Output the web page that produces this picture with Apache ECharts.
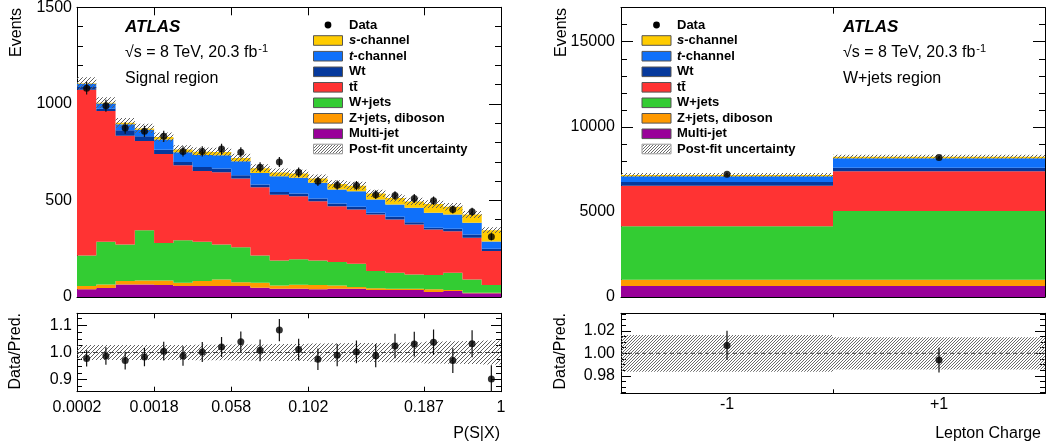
<!DOCTYPE html>
<html><head><meta charset="utf-8">
<script src="https://cdn.jsdelivr.net/npm/echarts@6/dist/echarts.min.js"></script>
<style>html,body{margin:0;padding:0;background:#fff}#c{width:1048px;height:447px}</style>
</head><body><div id="c"></div>
<script>
// ================= DATA =================
// Process names (stack order, bottom -> top) and colours
const procNames  = ['Multi-jet', 'Z+jets, diboson', 'W+jets', 'tt\u0304', 'Wt', 't-channel', 's-channel'];
const procColors = ['#990099', '#ff9900', '#33cc33', '#ff3333', '#06399c', '#0f70fa', '#ffcc00'];

// --- Signal region: 22 bins in P(S|X) ---
const srMultijet = [40, 46, 65, 65, 62, 57, 57, 57, 57, 48, 43, 43, 40, 43, 43, 36, 36, 36, 26, 31, 19, 19];
const srZjets    = [17, 19, 18, 21, 24, 17, 26, 34, 20, 26, 17, 21, 22, 17, 9, 9, 7, 7, 14, 5, 3, 3];
const srWjets    = [158, 221, 189, 260, 193, 220, 203, 181, 181, 141, 129, 131, 127, 121, 120, 89, 83, 74, 74, 90, 69, 40];
const srTtbar    = [858, 677, 563, 462, 461, 388, 367, 374, 355, 353, 341, 327, 307, 289, 281, 293, 275, 258, 236, 215, 216, 176];
const srWt       = [14, 12, 28, 24, 23, 17, 20, 19, 17, 14, 14, 14, 14, 14, 14, 9, 14, 12, 8, 12, 17, 12];
const srTchan    = [17, 27, 32, 34, 52, 50, 62, 69, 73, 60, 81, 81, 81, 72, 81, 69, 64, 75, 78, 74, 60, 37];
const srSchan    = [3, 4, 7, 7, 13, 15, 17, 17, 17, 25, 20, 22, 23, 29, 28, 31, 34, 33, 45, 40, 43, 59];
const srData     = [1081, 990, 875, 858, 832, 754, 754, 766, 749, 672, 699, 646, 599, 579, 577, 530, 525, 510, 499, 453, 441, 312];
const srDataErr  = [33, 31, 30, 29, 29, 27, 27, 28, 27, 26, 26, 25, 24, 24, 24, 23, 23, 23, 22, 21, 21, 18];
const srRatio    = [0.978, 0.987, 0.970, 0.983, 1.005, 0.987, 1.002, 1.020, 1.040, 1.008, 1.083, 1.011, 0.975, 0.990, 1.002, 0.988, 1.024, 1.031, 1.038, 0.970, 1.032, 0.902];
const srRatioErr = [0.030, 0.032, 0.033, 0.034, 0.035, 0.036, 0.037, 0.037, 0.038, 0.040, 0.041, 0.040, 0.040, 0.041, 0.042, 0.043, 0.045, 0.046, 0.047, 0.046, 0.050, 0.051];
const srUnc      = [0.028, 0.028, 0.028, 0.028, 0.028, 0.028, 0.029, 0.029, 0.030, 0.030, 0.031, 0.031, 0.033, 0.034, 0.035, 0.035, 0.036, 0.037, 0.041, 0.042, 0.043, 0.044];
const srTickPos    = [0, 4, 8, 12, 18, 22];
const srTickLabels = ['0.0002', '0.0018', '0.058', '0.102', '0.187', '1'];

// --- W+jets region: 2 bins in lepton charge ---
const wjCategories = ['-1', '+1'];
const wjMultijet = [650, 650];
const wjZjets    = [370, 370];
const wjWjets    = [3140, 4040];
const wjTtbar    = [2370, 2333];
const wjWt       = [235, 196];
const wjTchan    = [330, 569];
const wjSchan    = [70, 88];
const wjData     = [7216, 8196];
const wjDataErr  = [85, 91];
const wjRatio    = [1.007, 0.994];
const wjRatioErr = [0.013, 0.011];
const wjUnc      = [0.0163, 0.0143];

// ================= HELPERS =================
const FONT = "'Liberation Sans', Arial, Helvetica, sans-serif";

function makeHatch(color, size) {
  const c = document.createElement('canvas');
  c.width = size; c.height = size;
  const ctx = c.getContext('2d');
  ctx.strokeStyle = color; ctx.lineWidth = 1;
  ctx.beginPath();
  ctx.moveTo(0, size); ctx.lineTo(size, 0);
  ctx.moveTo(-1, 1); ctx.lineTo(1, -1);
  ctx.moveTo(size - 1, size + 1); ctx.lineTo(size + 1, size - 1);
  ctx.stroke();
  return c;
}
const hatch4 = { image: makeHatch('#606060', 4), repeat: 'repeat' };
const hatch3 = { image: makeHatch('#6a6a6a', 3), repeat: 'repeat' };

const grids = [
  { left: 77,  top: 7.3,   width: 424, height: 289.7 },
  { left: 77,  top: 313.3, width: 424, height: 78.4 },
  { left: 621, top: 7.7,   width: 424, height: 289.3 },
  { left: 621, top: 313.3, width: 424, height: 80 }
];
grids.forEach(g => { g.outerBoundsMode = 'none'; g.containLabel = false; });

const xAxes = [], yAxes = [];
function axis(o) {
  return {
    type: 'value', gridIndex: o.g, position: o.pos, min: o.min, max: o.max,
    axisLine: { show: !!o.line, onZero: false, lineStyle: { color: '#000', width: 1 } },
    axisTick: { show: o.len > 0, inside: true, length: o.len, customValues: o.ticks, lineStyle: { color: '#000', width: 1 } },
    axisLabel: { show: !!o.labels, customValues: o.labels || [], formatter: o.fmt, color: '#000',
                 fontSize: 16, fontFamily: FONT, margin: o.margin || 6, hideOverlap: false,
                 showMinLabel: true, showMaxLabel: true },
    splitLine: { show: false }, minorTick: { show: false }, minorSplitLine: { show: false }
  };
}
function addX(o) { xAxes.push(axis(o)); return xAxes.length - 1; }
function addY(o) { yAxes.push(axis(o)); return yAxes.length - 1; }
function range(a, b, step, exclStep) {
  const out = [];
  for (let v = a; v <= b + 1e-9; v += step) {
    const r = Math.round(v * 100000) / 100000;
    if (exclStep && Math.abs(r / exclStep - Math.round(r / exclStep)) < 1e-6) continue;
    out.push(r);
  }
  return out;
}

// ---- Grid 0: signal region main ----
const x0 = addX({ g: 0, pos: 'bottom', min: 0, max: 22, line: true, len: 8, ticks: srTickPos });
addX({ g: 0, pos: 'top', min: 0, max: 22, line: true, len: 8, ticks: srTickPos });
const y0 = addY({ g: 0, pos: 'left', min: 0, max: 1500, line: true, len: 12, ticks: [0, 500, 1000, 1500],
                  labels: [0, 500, 1000, 1500], fmt: v => String(Math.round(v)), margin: 5 });
addY({ g: 0, pos: 'left', min: 0, max: 1500, line: false, len: 6, ticks: range(100, 1400, 100, 500) });
addY({ g: 0, pos: 'right', min: 0, max: 1500, line: true, len: 12, ticks: [0, 500, 1000, 1500] });
addY({ g: 0, pos: 'right', min: 0, max: 1500, line: false, len: 6, ticks: range(100, 1400, 100, 500) });

// ---- Grid 1: signal region ratio ----
const x1 = addX({ g: 1, pos: 'bottom', min: 0, max: 22, line: true, len: 5, ticks: srTickPos,
                  labels: srTickPos, fmt: v => srTickLabels[srTickPos.indexOf(Math.round(v))] || '', margin: 8 });
addX({ g: 1, pos: 'top', min: 0, max: 22, line: true, len: 5, ticks: srTickPos });
const y1 = addY({ g: 1, pos: 'left', min: 0.855, max: 1.145, line: true, len: 10, ticks: [0.9, 1.0, 1.1],
                  labels: [0.9, 1.0, 1.1], fmt: v => v.toFixed(1), margin: 5 });
addY({ g: 1, pos: 'left', min: 0.855, max: 1.145, line: false, len: 5, ticks: range(0.875, 1.125, 0.025, 0.1) });
addY({ g: 1, pos: 'right', min: 0.855, max: 1.145, line: true, len: 10, ticks: [0.9, 1.0, 1.1] });
addY({ g: 1, pos: 'right', min: 0.855, max: 1.145, line: false, len: 5, ticks: range(0.875, 1.125, 0.025, 0.1) });

// ---- Grid 2: W+jets main ----
const x2 = addX({ g: 2, pos: 'bottom', min: 0, max: 2, line: true, len: 6, ticks: [0, 1, 2] });
addX({ g: 2, pos: 'bottom', min: 0, max: 2, line: false, len: 2, ticks: range(0.1, 1.9, 0.1, 1) });
addX({ g: 2, pos: 'top', min: 0, max: 2, line: true, len: 6, ticks: [0, 1, 2] });
const y2 = addY({ g: 2, pos: 'left', min: 0, max: 17000, line: true, len: 12, ticks: [0, 5000, 10000, 15000],
                  labels: [0, 5000, 10000, 15000], fmt: v => String(Math.round(v)), margin: 6 });
addY({ g: 2, pos: 'left', min: 0, max: 17000, line: false, len: 6, ticks: range(1000, 17000, 1000, 5000) });
addY({ g: 2, pos: 'right', min: 0, max: 17000, line: true, len: 12, ticks: [0, 5000, 10000, 15000] });
addY({ g: 2, pos: 'right', min: 0, max: 17000, line: false, len: 6, ticks: range(1000, 17000, 1000, 5000) });

// ---- Grid 3: W+jets ratio ----
const x3 = addX({ g: 3, pos: 'bottom', min: 0, max: 2, line: true, len: 4, ticks: [0, 1, 2],
                  labels: [0.5, 1.5], fmt: v => wjCategories[Math.floor(v)] || '', margin: 3 });
addX({ g: 3, pos: 'top', min: 0, max: 2, line: true, len: 4, ticks: [0, 1, 2] });
const y3 = addY({ g: 3, pos: 'left', min: 0.9645, max: 1.0355, line: true, len: 10, ticks: [0.98, 1.0, 1.02],
                  labels: [0.98, 1.0, 1.02], fmt: v => v.toFixed(2), margin: 6 });
addY({ g: 3, pos: 'left', min: 0.9645, max: 1.0355, line: false, len: 5, ticks: range(0.965, 1.035, 0.005, 0.02) });
addY({ g: 3, pos: 'right', min: 0.9645, max: 1.0355, line: true, len: 10, ticks: [0.98, 1.0, 1.02] });
addY({ g: 3, pos: 'right', min: 0.9645, max: 1.0355, line: false, len: 5, ticks: range(0.965, 1.035, 0.005, 0.02) });

// ---- render helpers ----
// Draws the whole histogram band of one series as a single stepped polygon
// (data items: [binLowEdge, low, high]); built on the first item only.
function binPoly(fillOverride) {
  return function (params, api) {
    if (params.dataIndexInside !== 0) return null;
    const n = params.dataInsideLength;
    const top = [], bot = [];
    for (let j = 0; j < n; j++) {
      const xs = api.value(0, j), lo = api.value(1, j), hi = api.value(2, j);
      const a = api.coord([xs, hi]), b = api.coord([xs + 1, hi]);
      const c = api.coord([xs, lo]), d = api.coord([xs + 1, lo]);
      top.push([a[0], a[1]], [b[0], b[1]]);
      bot.push([c[0], c[1]], [d[0], d[1]]);
    }
    const pts = top.concat(bot.reverse());
    return { type: 'polygon', shape: { points: pts },
             style: { fill: fillOverride || api.visual('color'), stroke: null, lineWidth: 0 } };
  };
}
function errBar(params, api) {
  const xc = api.value(0);
  const a = api.coord([xc, api.value(1)]);
  const b = api.coord([xc, api.value(2)]);
  return { type: 'line', shape: { x1: a[0], y1: a[1], x2: b[0], y2: b[1] }, style: { stroke: '#111', lineWidth: 1.2 } };
}

const series = [];
function addStack(comps, xi, yi) {
  const n = comps[0].length;
  const base = new Array(n).fill(0);
  comps.forEach((vals, k) => {
    const data = vals.map((v, i) => [i, base[i], base[i] + v]);
    vals.forEach((v, i) => { base[i] += v; });
    series.push({ type: 'custom', name: procNames[k], xAxisIndex: xi, yAxisIndex: yi, clip: true, z: 2,
                  itemStyle: { color: procColors[k] }, renderItem: binPoly(), data: data, silent: true });
  });
  return base; // totals
}
function addMain(comps, data, dataErr, unc, xi, yi, hatch) {
  const tot = addStack(comps, xi, yi);
  series.push({ type: 'custom', name: 'Post-fit uncertainty', xAxisIndex: xi, yAxisIndex: yi, clip: true, z: 3,
                renderItem: binPoly(hatch), silent: true,
                data: tot.map((t, i) => [i, t * (1 - unc[i]), t * (1 + unc[i])]) });
  series.push({ type: 'custom', name: 'Data err', xAxisIndex: xi, yAxisIndex: yi, clip: true, z: 4, renderItem: errBar,
                silent: true, data: data.map((v, i) => [i + 0.5, v - dataErr[i], v + dataErr[i]]) });
  series.push({ type: 'scatter', name: 'Data', xAxisIndex: xi, yAxisIndex: yi, z: 5, symbol: 'circle', symbolSize: 7,
                itemStyle: { color: '#000' }, silent: true, data: data.map((v, i) => [i + 0.5, v]) });
}
function addRatio(ratio, rErr, unc, nb, xi, yi, hatch, dash) {
  series.push({ type: 'custom', name: 'Ratio band', xAxisIndex: xi, yAxisIndex: yi, clip: true, z: 2,
                renderItem: binPoly(hatch), silent: true, data: unc.map((u, i) => [i, 1 - u, 1 + u]) });
  series.push({ type: 'line', name: 'Unity', xAxisIndex: xi, yAxisIndex: yi, z: 3, symbol: 'none', silent: true,
                lineStyle: { color: '#444', width: 1, type: dash }, data: [[0, 1], [nb, 1]] });
  series.push({ type: 'custom', name: 'Ratio err', xAxisIndex: xi, yAxisIndex: yi, clip: true, z: 4, renderItem: errBar,
                silent: true, data: ratio.map((r, i) => [i + 0.5, r - rErr[i], r + rErr[i]]) });
  series.push({ type: 'scatter', name: 'Ratio', xAxisIndex: xi, yAxisIndex: yi, z: 5, symbol: 'circle', symbolSize: 7,
                itemStyle: { color: '#000' }, silent: true, clip: true, data: ratio.map((r, i) => [i + 0.5, r]) });
}

addMain([srMultijet, srZjets, srWjets, srTtbar, srWt, srTchan, srSchan], srData, srDataErr, srUnc, x0, y0, hatch4);
addRatio(srRatio, srRatioErr, srUnc, 22, x1, y1, hatch4, [5, 3]);
addMain([wjMultijet, wjZjets, wjWjets, wjTtbar, wjWt, wjTchan, wjSchan], wjData, wjDataErr, wjUnc, x2, y2, hatch4);
addRatio(wjRatio, wjRatioErr, wjUnc, 2, x3, y3, hatch3, [4, 3]);

// ================= TEXT / LEGEND (graphic) =================
const graphics = [];
function txt(x, y, text, opt) {
  opt = opt || {};
  graphics.push({
    type: 'text', x: x, y: y, rotation: opt.rotation || 0, silent: true, z: 100,
    style: Object.assign({ text: text, fill: '#000', fontFamily: FONT, fontSize: opt.size || 16,
      fontWeight: opt.weight || 'normal', fontStyle: opt.style || 'normal',
      align: opt.align || 'left', verticalAlign: opt.valign || 'middle',
      textAlign: opt.align || 'left', textVerticalAlign: opt.valign || 'middle' }, opt.extra || {})
  });
}
const supRich = { sup: { fontSize: 11, fontFamily: FONT, verticalAlign: 'top', fill: '#000', padding: [0, 0, 0, 1] } };
function header(x, region) {
  txt(x, 27, 'ATLAS', { size: 17, weight: 'bold', style: 'italic' });
  txt(x, 53, '\u221As = 8 TeV, 20.3 fb{sup|-1}', { size: 16, extra: { rich: supRich, lineHeight: 20 } });
  txt(x, 78.5, region, { size: 16 });
}
header(125, 'Signal region');
header(843, 'W+jets region');

// Axis titles
txt(17, 8, 'Events', { rotation: Math.PI / 2, align: 'right' });
txt(562, 8, 'Events', { rotation: Math.PI / 2, align: 'right' });
txt(16, 313, 'Data/Pred.', { rotation: Math.PI / 2, align: 'right' });
txt(561, 313, 'Data/Pred.', { rotation: Math.PI / 2, align: 'right' });
txt(500, 434, 'P(S|X)', { align: 'right' });
txt(1041, 434, 'Lepton Charge', { align: 'right' });

// Legends
const legendRows = [25, 40.5, 56.2, 71.8, 87.3, 102.8, 118.3, 133.8, 149];
const legendLabels = ['Data', '{it|s}-channel', '{it|t}-channel', 'Wt', 'tt\u0304', 'W+jets', 'Z+jets, diboson', 'Multi-jet', 'Post-fit uncertainty'];
const legendColorIdx = [null, 6, 5, 4, 3, 2, 1, 0, null];
const itRich = { it: { fontStyle: 'italic', fontWeight: 'bold', fontSize: 13, fontFamily: FONT, fill: '#000' } };
function legend(bx, tx) {
  legendRows.forEach((y, r) => {
    if (r === 0) {
      graphics.push({ type: 'circle', silent: true, z: 100, shape: { cx: bx + 14.5, cy: y, r: 3.4 }, style: { fill: '#000' } });
    } else if (r === legendRows.length - 1) {
      graphics.push({ type: 'rect', silent: true, z: 100, shape: { x: bx, y: y - 4.8, width: 29, height: 9.6 }, style: { fill: '#fff', stroke: '#9a9a9a', lineWidth: 1 } });
      graphics.push({ type: 'rect', silent: true, z: 101, shape: { x: bx + 0.5, y: y - 4.3, width: 28, height: 8.6 }, style: { fill: hatch3 } });
    } else {
      graphics.push({ type: 'rect', silent: true, z: 100, shape: { x: bx, y: y - 4.8, width: 29, height: 9.6 },
                      style: { fill: procColors[legendColorIdx[r]], stroke: '#555', lineWidth: 1 } });
    }
    txt(tx, y, legendLabels[r], { size: 13, weight: 'bold', extra: { rich: itRich } });
  });
}
legend(313.5, 349);
legend(642, 677);

// ================= CHART =================
const chart = echarts.init(document.getElementById('c'), null, { renderer: 'canvas' });
chart.setOption({
  animation: false,
  backgroundColor: '#fff',
  textStyle: { fontFamily: FONT },
  grid: grids,
  xAxis: xAxes,
  yAxis: yAxes,
  series: series,
  graphic: { elements: graphics }
});
</script>
</body></html>
